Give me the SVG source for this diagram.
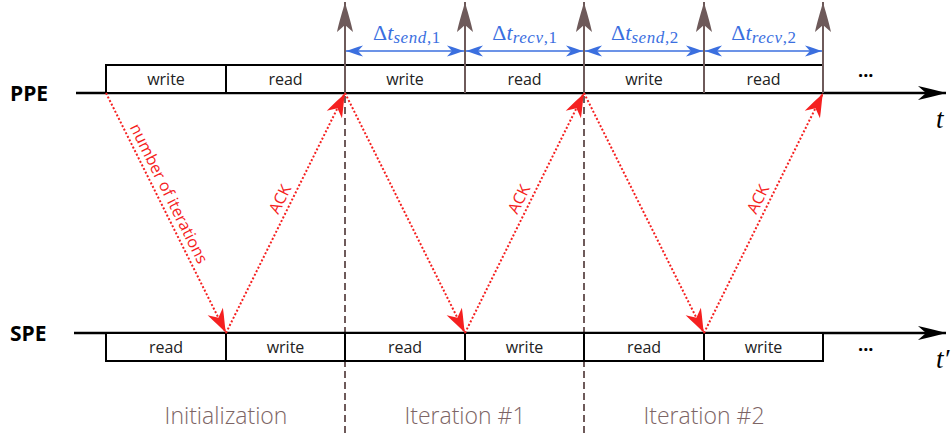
<svg xmlns="http://www.w3.org/2000/svg" width="951" height="433" viewBox="0 0 951 433">
  <style>
    .axis { stroke: #000; stroke-width: 2.5; fill: none; }
    .box { fill: #fff; stroke: #000; stroke-width: 2; }
    .boxtxt { font-family: "Open Sans", "Noto Sans", sans-serif; font-size: 16px; fill: #222; text-anchor: middle; }
    .proc { font-family: "Open Sans", "Noto Sans", sans-serif; font-size: 21px; font-weight: bold; fill: #000; }
    .tick { stroke: #6e5a5a; stroke-width: 2; fill: none; }
    .sep { stroke: #6e5a5a; stroke-width: 2; stroke-dasharray: 7 4; fill: none; }
    .msg { stroke: #f52020; stroke-width: 2; stroke-dasharray: 2 2; fill: none; }
    .msgtxt { font-family: "Open Sans", "Noto Sans", sans-serif; font-size: 16px; fill: #f52020; text-anchor: middle; }
    .dim { stroke: #3b6fdf; stroke-width: 1.5; fill: none; }
    .dimtxt { font-family: "Liberation Serif", serif; font-size: 22px; fill: #3b6fdf; text-anchor: middle; }
    .sub { font-size: 17px; letter-spacing: 0.6px; }
    .phase { font-family: "Open Sans", "Noto Sans", sans-serif; font-size: 23px; font-weight: 300; fill: #7d6565; text-anchor: middle; }
    .tvar { font-family: "Liberation Serif", serif; font-style: italic; font-size: 27px; fill: #000; }
    .dots { font-family: "Open Sans", "Noto Sans", sans-serif; font-size: 18px; font-weight: bold; fill: #000; }
  </style>
  <defs>
    <marker id="headAxis" viewBox="-30 -10 32 20" refX="0" refY="0" markerWidth="32" markerHeight="20" markerUnits="userSpaceOnUse" orient="auto">
      <path d="M0,0 C-8,-2 -18,-5 -28,-7 L-20,0 L-28,7 C-18,5 -8,2 0,0 Z" fill="#000"/>
    </marker>
    <marker id="headTick" viewBox="-32 -10 34 20" refX="0" refY="0" markerWidth="34" markerHeight="20" markerUnits="userSpaceOnUse" orient="auto">
      <path d="M0,0 C-8,-2 -20,-6 -30,-8 L-23,0 L-30,8 C-20,6 -8,2 0,0 Z" fill="#6e5a5a"/>
    </marker>
    <marker id="headMsg" viewBox="-26 -10 28 20" refX="0" refY="0" markerWidth="28" markerHeight="20" markerUnits="userSpaceOnUse" orient="auto">
      <path d="M0,0 C-7,-2 -16,-6 -24,-8.5 L-17,0 L-24,8.5 C-16,6 -7,2 0,0 Z" fill="#f52020"/>
    </marker>
    <marker id="headDim" viewBox="-19 -7 21 14" refX="0" refY="0" markerWidth="21" markerHeight="14" markerUnits="userSpaceOnUse" orient="auto-start-reverse">
      <path d="M0,0 C-5,-1.5 -11,-4 -17,-5.5 L-12,0 L-17,5.5 C-11,4 -5,1.5 0,0 Z" fill="#3b6fdf"/>
    </marker>
  </defs>

  <!-- phase separators -->
  <g id="separators">
    <line class="sep" x1="345" y1="96" x2="345" y2="433"/>
    <line class="sep" x1="584" y1="96" x2="584" y2="433"/>
  </g>

  <!-- PPE timeline -->
  <g id="ppe">
    <text class="proc" x="10" y="101">PPE</text>
    <line class="axis" x1="76" y1="93" x2="946" y2="93" marker-end="url(#headAxis)"/>
    <rect class="box" x="106" y="65" width="120" height="28"/>
    <rect class="box" x="226" y="65" width="119" height="28"/>
    <rect class="box" x="345" y="65" width="120" height="28"/>
    <rect class="box" x="465" y="65" width="119" height="28"/>
    <rect class="box" x="584" y="65" width="120" height="28"/>
    <rect class="box" x="704" y="65" width="119" height="28"/>
    <text class="boxtxt" x="166" y="85">write</text>
    <text class="boxtxt" x="285.5" y="85">read</text>
    <text class="boxtxt" x="405" y="85">write</text>
    <text class="boxtxt" x="524.5" y="85">read</text>
    <text class="boxtxt" x="644" y="85">write</text>
    <text class="boxtxt" x="763.5" y="85">read</text>
    <text class="dots" x="858" y="82">···</text>
    <text class="tvar" x="936" y="128">t</text>
  </g>

  <!-- SPE timeline -->
  <g id="spe">
    <text class="proc" x="10" y="341">SPE</text>
    <line class="axis" x1="74" y1="333" x2="946" y2="333" marker-end="url(#headAxis)"/>
    <rect class="box" x="106" y="333" width="120" height="28"/>
    <rect class="box" x="226" y="333" width="119" height="28"/>
    <rect class="box" x="345" y="333" width="120" height="28"/>
    <rect class="box" x="465" y="333" width="119" height="28"/>
    <rect class="box" x="584" y="333" width="120" height="28"/>
    <rect class="box" x="704" y="333" width="119" height="28"/>
    <text class="boxtxt" x="166" y="353">read</text>
    <text class="boxtxt" x="285.5" y="353">write</text>
    <text class="boxtxt" x="405" y="353">read</text>
    <text class="boxtxt" x="524.5" y="353">write</text>
    <text class="boxtxt" x="644" y="353">read</text>
    <text class="boxtxt" x="763.5" y="353">write</text>
    <text class="dots" x="858" y="356">···</text>
    <text class="tvar" x="936" y="368">t′</text>
  </g>

  <!-- time marks on the PPE axis -->
  <g id="ticks">
    <line class="tick" x1="345" y1="93" x2="345" y2="2" marker-end="url(#headTick)"/>
    <line class="tick" x1="465" y1="93" x2="465" y2="2" marker-end="url(#headTick)"/>
    <line class="tick" x1="584" y1="93" x2="584" y2="2" marker-end="url(#headTick)"/>
    <line class="tick" x1="704" y1="93" x2="704" y2="2" marker-end="url(#headTick)"/>
    <line class="tick" x1="823" y1="93" x2="823" y2="2" marker-end="url(#headTick)"/>
  </g>

  <!-- interval dimensions -->
  <g id="intervals">
    <line class="dim" x1="346" y1="51" x2="464" y2="51" marker-start="url(#headDim)" marker-end="url(#headDim)"/>
    <line class="dim" x1="466" y1="51" x2="583" y2="51" marker-start="url(#headDim)" marker-end="url(#headDim)"/>
    <line class="dim" x1="585" y1="51" x2="703" y2="51" marker-start="url(#headDim)" marker-end="url(#headDim)"/>
    <line class="dim" x1="705" y1="51" x2="822" y2="51" marker-start="url(#headDim)" marker-end="url(#headDim)"/>
    <text class="dimtxt" x="407" y="40">Δ<tspan font-style="italic">t</tspan><tspan class="sub" font-style="italic" dy="3">send</tspan><tspan class="sub">,1</tspan></text>
    <text class="dimtxt" x="525" y="40">Δ<tspan font-style="italic">t</tspan><tspan class="sub" font-style="italic" dy="3">recv</tspan><tspan class="sub">,1</tspan></text>
    <text class="dimtxt" x="645" y="40">Δ<tspan font-style="italic">t</tspan><tspan class="sub" font-style="italic" dy="3">send</tspan><tspan class="sub">,2</tspan></text>
    <text class="dimtxt" x="764" y="40">Δ<tspan font-style="italic">t</tspan><tspan class="sub" font-style="italic" dy="3">recv</tspan><tspan class="sub">,2</tspan></text>
  </g>

  <!-- messages between PPE and SPE -->
  <g id="messages">
    <line class="msg" x1="106" y1="93" x2="226" y2="333" marker-end="url(#headMsg)"/>
    <line class="msg" x1="226" y1="333" x2="345" y2="93" marker-end="url(#headMsg)"/>
    <line class="msg" x1="345" y1="93" x2="465" y2="333" marker-end="url(#headMsg)"/>
    <line class="msg" x1="465" y1="333" x2="584" y2="93" marker-end="url(#headMsg)"/>
    <line class="msg" x1="584" y1="93" x2="704" y2="333" marker-end="url(#headMsg)"/>
    <line class="msg" x1="704" y1="333" x2="823" y2="93" marker-end="url(#headMsg)"/>
    <text class="msgtxt" transform="translate(164,196) rotate(63.43)">number of iterations</text>
    <text class="msgtxt" transform="translate(285,201.7) rotate(-63.43)">ACK</text>
    <text class="msgtxt" transform="translate(524,201.7) rotate(-63.43)">ACK</text>
    <text class="msgtxt" transform="translate(763,201.7) rotate(-63.43)">ACK</text>
  </g>

  <!-- phase names -->
  <g id="phases">
    <text class="phase" x="226" y="424">Initialization</text>
    <text class="phase" x="465" y="424">Iteration #1</text>
    <text class="phase" x="704" y="424">Iteration #2</text>
  </g>
</svg>
